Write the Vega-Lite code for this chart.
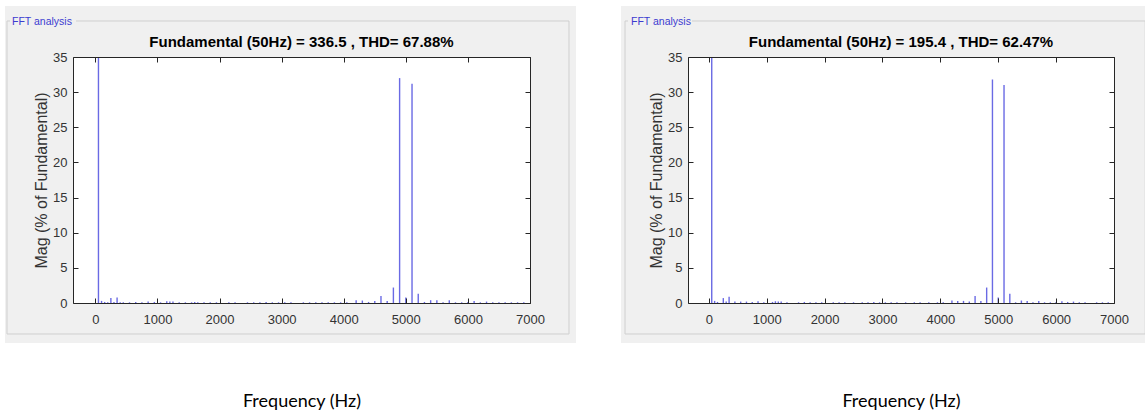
{
  "$schema": "https://vega.github.io/schema/vega-lite/v6.json",
  "background": "white",
  "padding": {"left": 5, "top": 5, "right": 0, "bottom": 0},
  "spacing": 43,
  "config": {
    "view": {"stroke": null},
    "axis": {
      "grid": false,
      "domainColor": "#262626",
      "tickColor": "#262626",
      "tickSize": -5,
      "labelColor": "#333333",
      "labelFont": "Liberation Sans",
      "labelFontSize": 13,
      "labelFlush": false,
      "labelOverlap": false,
      "titleFont": "Liberation Sans",
      "titleFontWeight": "normal",
      "titleColor": "#333333"
    },
    "title": {"font": "Liberation Sans", "fontSize": 15, "fontWeight": "bold", "color": "#000000", "anchor": "middle", "frame": "group", "baseline": "bottom", "offset": -44}
  },
  "datasets": {
    "a": [
      {"f": 50, "m": 100}, {"f": 100, "m": 0.3}, {"f": 150, "m": 0.15}, {"f": 200, "m": 0.1}, {"f": 250, "m": 0.7},
      {"f": 300, "m": 0.15}, {"f": 350, "m": 0.8}, {"f": 400, "m": 0.1}, {"f": 450, "m": 0.1}, {"f": 550, "m": 0.1},
      {"f": 650, "m": 0.15}, {"f": 750, "m": 0.1}, {"f": 850, "m": 0.2}, {"f": 950, "m": 0.15}, {"f": 1050, "m": 0.1},
      {"f": 1150, "m": 0.25}, {"f": 1200, "m": 0.2}, {"f": 1250, "m": 0.2}, {"f": 1350, "m": 0.1}, {"f": 1450, "m": 0.1},
      {"f": 1550, "m": 0.1}, {"f": 1600, "m": 0.15}, {"f": 1650, "m": 0.1}, {"f": 1750, "m": 0.1}, {"f": 1850, "m": 0.1},
      {"f": 1950, "m": 0.1}, {"f": 2150, "m": 0.1}, {"f": 2250, "m": 0.1}, {"f": 2450, "m": 0.1}, {"f": 2550, "m": 0.1},
      {"f": 2650, "m": 0.1}, {"f": 2750, "m": 0.15}, {"f": 2850, "m": 0.1}, {"f": 2950, "m": 0.1}, {"f": 3050, "m": 0.1},
      {"f": 3150, "m": 0.1}, {"f": 3350, "m": 0.1}, {"f": 3450, "m": 0.1}, {"f": 3550, "m": 0.1}, {"f": 3650, "m": 0.1},
      {"f": 3750, "m": 0.1}, {"f": 3850, "m": 0.1}, {"f": 3950, "m": 0.1}, {"f": 4050, "m": 0.1}, {"f": 4200, "m": 0.4},
      {"f": 4300, "m": 0.35}, {"f": 4400, "m": 0.15}, {"f": 4500, "m": 0.3}, {"f": 4600, "m": 1.0}, {"f": 4700, "m": 0.3},
      {"f": 4800, "m": 2.2}, {"f": 4900, "m": 32.0}, {"f": 5000, "m": 0.8}, {"f": 5100, "m": 31.2}, {"f": 5200, "m": 1.3},
      {"f": 5300, "m": 0.15}, {"f": 5400, "m": 0.4}, {"f": 5500, "m": 0.4}, {"f": 5600, "m": 0.1}, {"f": 5700, "m": 0.4},
      {"f": 5800, "m": 0.1}, {"f": 5900, "m": 0.1}, {"f": 6000, "m": 0.15}, {"f": 6100, "m": 0.3}, {"f": 6200, "m": 0.1},
      {"f": 6300, "m": 0.2}, {"f": 6400, "m": 0.1}, {"f": 6500, "m": 0.1}, {"f": 6600, "m": 0.1}, {"f": 6700, "m": 0.1},
      {"f": 6800, "m": 0.1}, {"f": 6900, "m": 0.1}
    ],
    "b": [
      {"f": 50, "m": 100}, {"f": 100, "m": 0.3}, {"f": 150, "m": 0.15}, {"f": 250, "m": 0.7}, {"f": 300, "m": 0.2},
      {"f": 350, "m": 0.9}, {"f": 450, "m": 0.2}, {"f": 550, "m": 0.2}, {"f": 650, "m": 0.2}, {"f": 750, "m": 0.15},
      {"f": 850, "m": 0.25}, {"f": 950, "m": 0.1}, {"f": 1100, "m": 0.15}, {"f": 1150, "m": 0.25}, {"f": 1200, "m": 0.2},
      {"f": 1250, "m": 0.2}, {"f": 1350, "m": 0.1}, {"f": 1550, "m": 0.1}, {"f": 1650, "m": 0.15}, {"f": 1750, "m": 0.1},
      {"f": 1850, "m": 0.1}, {"f": 1950, "m": 0.1}, {"f": 2150, "m": 0.1}, {"f": 2250, "m": 0.1}, {"f": 2350, "m": 0.1},
      {"f": 2500, "m": 0.1}, {"f": 2650, "m": 0.1}, {"f": 2750, "m": 0.1}, {"f": 2850, "m": 0.15}, {"f": 2950, "m": 0.1},
      {"f": 3050, "m": 0.1}, {"f": 3150, "m": 0.1}, {"f": 3250, "m": 0.1}, {"f": 3400, "m": 0.1}, {"f": 3550, "m": 0.1},
      {"f": 3650, "m": 0.1}, {"f": 3800, "m": 0.1}, {"f": 3950, "m": 0.1}, {"f": 4050, "m": 0.1}, {"f": 4200, "m": 0.35},
      {"f": 4300, "m": 0.3}, {"f": 4400, "m": 0.3}, {"f": 4500, "m": 0.2}, {"f": 4600, "m": 1.0}, {"f": 4700, "m": 0.3},
      {"f": 4800, "m": 2.2}, {"f": 4900, "m": 31.8}, {"f": 5000, "m": 0.8}, {"f": 5100, "m": 31.0}, {"f": 5200, "m": 1.3},
      {"f": 5300, "m": 0.1}, {"f": 5400, "m": 0.35}, {"f": 5500, "m": 0.3}, {"f": 5600, "m": 0.1}, {"f": 5700, "m": 0.3},
      {"f": 5800, "m": 0.1}, {"f": 5900, "m": 0.1}, {"f": 6000, "m": 0.15}, {"f": 6100, "m": 0.25}, {"f": 6200, "m": 0.15},
      {"f": 6300, "m": 0.2}, {"f": 6400, "m": 0.1}, {"f": 6500, "m": 0.1}, {"f": 6700, "m": 0.1}, {"f": 6800, "m": 0.1},
      {"f": 6900, "m": 0.1}
    ]
  },
  "hconcat": [
    {
      "width": 457,
      "height": 246,
      "title": "Fundamental (50Hz) = 336.5 , THD= 67.88%",
      "resolve": {"axis": {"x": "independent", "y": "independent"}},
      "layer": [
        {
          "data": {"values": [{}]},
          "mark": {"type": "rect", "fill": "#f0f0f0"},
          "encoding": {
            "x": {"datum": -1455, "type": "quantitative", "scale": {"domain": [-360, 7000], "nice": false, "zero": false}, "axis": null},
            "x2": {"datum": 7741},
            "y": {"datum": 42.26, "type": "quantitative", "scale": {"domain": [0, 35], "nice": false, "zero": false}, "axis": null},
            "y2": {"datum": -5.69}
          }
        },
        {
          "data": {"values": [{}]},
          "mark": {"type": "rect", "fill": null, "stroke": "#cfcfcf", "strokeWidth": 1},
          "encoding": {
            "x": {"datum": -1423, "type": "quantitative", "scale": {"domain": [-360, 7000], "nice": false, "zero": false}, "axis": null},
            "x2": {"datum": 7628},
            "y": {"datum": 40.12, "type": "quantitative", "scale": {"domain": [0, 35], "nice": false, "zero": false}, "axis": null},
            "y2": {"datum": -4.41}
          }
        },
        {
          "data": {"values": [{}]},
          "mark": {"type": "rect", "fill": "#f0f0f0"},
          "encoding": {
            "x": {"datum": -1375, "type": "quantitative", "scale": {"domain": [-360, 7000], "nice": false, "zero": false}, "axis": null},
            "x2": {"datum": -312},
            "y": {"datum": 40.83, "type": "quantitative", "scale": {"domain": [0, 35], "nice": false, "zero": false}, "axis": null},
            "y2": {"datum": 39.27}
          }
        },
        {
          "data": {"values": [{}]},
          "mark": {"type": "text", "text": "FFT analysis", "align": "left", "baseline": "middle", "font": "Liberation Sans", "fontSize": 10.5, "color": "#3c3cd0"},
          "encoding": {
            "x": {"datum": -1342, "type": "quantitative", "scale": {"domain": [-360, 7000], "nice": false, "zero": false}, "axis": null},
            "y": {"datum": 39.98, "type": "quantitative", "scale": {"domain": [0, 35], "nice": false, "zero": false}, "axis": null}
          }
        },
        {
          "data": {"values": [{}]},
          "mark": {"type": "rect", "fill": "#ffffff"},
          "encoding": {
            "x": {"datum": -360, "type": "quantitative", "scale": {"domain": [-360, 7000], "nice": false, "zero": false},
                  "axis": {"orient": "top", "zindex": 2, "labels": false, "title": null, "values": [0, 1000, 2000, 3000, 4000, 5000, 6000, 7000]}},
            "x2": {"datum": 7000},
            "y": {"datum": 0, "type": "quantitative", "scale": {"domain": [0, 35], "nice": false, "zero": false},
                  "axis": {"orient": "right", "zindex": 2, "labels": false, "title": null, "values": [0, 5, 10, 15, 20, 25, 30, 35]}},
            "y2": {"datum": 35}
          }
        },
        {
          "data": {"name": "a"},
          "mark": {"type": "rule", "color": "#6a6ae4", "strokeWidth": 1.4, "clip": true},
          "encoding": {
            "x": {"field": "f", "type": "quantitative", "scale": {"domain": [-360, 7000], "nice": false, "zero": false},
                  "axis": {"orient": "bottom", "zindex": 2, "format": "d", "values": [0, 1000, 2000, 3000, 4000, 5000, 6000, 7000], "labelPadding": 15,
                           "title": "Frequency (Hz)", "titleFont": "Lato", "titleFontSize": 18, "titleColor": "#000000", "titlePadding": 66}},
            "y": {"field": "m", "type": "quantitative", "scale": {"domain": [0, 35], "nice": false, "zero": false},
                  "axis": {"orient": "left", "zindex": 2, "format": "d", "values": [0, 5, 10, 15, 20, 25, 30, 35], "labelPadding": 11,
                           "title": "Mag (% of Fundamental)", "titleFontSize": 16, "titlePadding": 3}},
            "y2": {"datum": 0}
          }
        }
      ]
    },
    {
      "width": 426,
      "height": 246,
      "title": "Fundamental (50Hz) = 195.4 , THD= 62.47%",
      "resolve": {"axis": {"x": "independent", "y": "independent"}},
      "layer": [
        {
          "data": {"values": [{}]},
          "mark": {"type": "rect", "fill": "#f0f0f0"},
          "encoding": {
            "x": {"datum": -1518, "type": "quantitative", "scale": {"domain": [-360, 7000], "nice": false, "zero": false}, "axis": null},
            "x2": {"datum": 7800},
            "y": {"datum": 42.26, "type": "quantitative", "scale": {"domain": [0, 35], "nice": false, "zero": false}, "axis": null},
            "y2": {"datum": -5.69}
          }
        },
        {
          "data": {"values": [{}]},
          "mark": {"type": "rect", "fill": null, "stroke": "#cfcfcf", "strokeWidth": 1},
          "encoding": {
            "x": {"datum": -1448, "type": "quantitative", "scale": {"domain": [-360, 7000], "nice": false, "zero": false}, "axis": null},
            "x2": {"datum": 7540},
            "y": {"datum": 40.12, "type": "quantitative", "scale": {"domain": [0, 35], "nice": false, "zero": false}, "axis": null},
            "y2": {"datum": -4.41}
          }
        },
        {
          "data": {"values": [{}]},
          "mark": {"type": "rect", "fill": "#f0f0f0"},
          "encoding": {
            "x": {"datum": -1397, "type": "quantitative", "scale": {"domain": [-360, 7000], "nice": false, "zero": false}, "axis": null},
            "x2": {"datum": -291},
            "y": {"datum": 40.83, "type": "quantitative", "scale": {"domain": [0, 35], "nice": false, "zero": false}, "axis": null},
            "y2": {"datum": 39.27}
          }
        },
        {
          "data": {"values": [{}]},
          "mark": {"type": "text", "text": "FFT analysis", "align": "left", "baseline": "middle", "font": "Liberation Sans", "fontSize": 10.5, "color": "#3c3cd0"},
          "encoding": {
            "x": {"datum": -1345, "type": "quantitative", "scale": {"domain": [-360, 7000], "nice": false, "zero": false}, "axis": null},
            "y": {"datum": 39.98, "type": "quantitative", "scale": {"domain": [0, 35], "nice": false, "zero": false}, "axis": null}
          }
        },
        {
          "data": {"values": [{}]},
          "mark": {"type": "rect", "fill": "#ffffff"},
          "encoding": {
            "x": {"datum": -360, "type": "quantitative", "scale": {"domain": [-360, 7000], "nice": false, "zero": false},
                  "axis": {"orient": "top", "zindex": 2, "labels": false, "title": null, "values": [0, 1000, 2000, 3000, 4000, 5000, 6000, 7000]}},
            "x2": {"datum": 7000},
            "y": {"datum": 0, "type": "quantitative", "scale": {"domain": [0, 35], "nice": false, "zero": false},
                  "axis": {"orient": "right", "zindex": 2, "labels": false, "title": null, "values": [0, 5, 10, 15, 20, 25, 30, 35]}},
            "y2": {"datum": 35}
          }
        },
        {
          "data": {"name": "b"},
          "mark": {"type": "rule", "color": "#6a6ae4", "strokeWidth": 1.4, "clip": true},
          "encoding": {
            "x": {"field": "f", "type": "quantitative", "scale": {"domain": [-360, 7000], "nice": false, "zero": false},
                  "axis": {"orient": "bottom", "zindex": 2, "format": "d", "values": [0, 1000, 2000, 3000, 4000, 5000, 6000, 7000], "labelPadding": 15,
                           "title": "Frequency (Hz)", "titleFont": "Lato", "titleFontSize": 18, "titleColor": "#000000", "titlePadding": 66}},
            "y": {"field": "m", "type": "quantitative", "scale": {"domain": [0, 35], "nice": false, "zero": false},
                  "axis": {"orient": "left", "zindex": 2, "format": "d", "values": [0, 5, 10, 15, 20, 25, 30, 35], "labelPadding": 11,
                           "title": "Mag (% of Fundamental)", "titleFontSize": 16, "titlePadding": 3}},
            "y2": {"datum": 0}
          }
        }
      ]
    }
  ]
}
